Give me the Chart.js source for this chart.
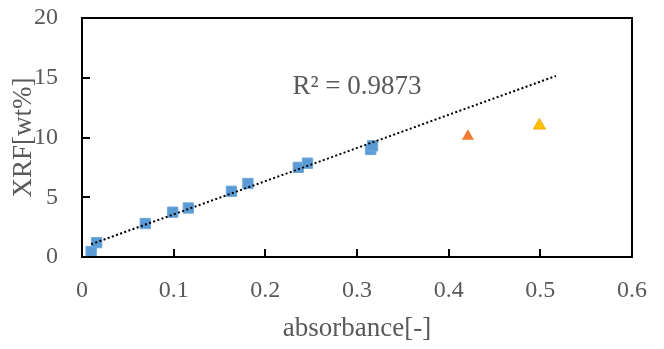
<!DOCTYPE html>
<html>
<head>
<meta charset="utf-8">
<script src="https://cdn.jsdelivr.net/npm/chart.js@4/dist/chart.umd.min.js"></script>
<style>
  html, body { margin: 0; padding: 0; background: #fff; }
  #wrap { width: 664px; height: 349px; }
</style>
</head>
<body>
<div id="wrap"><canvas id="myChart" width="664" height="349"></canvas></div>
<script>
// blue calibration points
var calX = [0.010, 0.016, 0.069, 0.099, 0.116, 0.163, 0.181, 0.236, 0.246, 0.315, 0.317];
var calY = [0.45, 1.2, 2.8, 3.75, 4.1, 5.5, 6.15, 7.5, 7.85, 9.0, 9.3];
// the two triangles
var orangeX = [0.421];
var orangeY = [10.1];
var yellowX = [0.499];
var yellowY = [11.0];
// dotted trend line (end points)
var trendX = [0.010, 0.517];
var trendY = [1.07, 15.15];
var xTicks = [0, 0.1, 0.2, 0.3, 0.4, 0.5, 0.6];
var yTicks = [0, 5, 10, 15, 20];
var r2Text = 'R² = 0.9873';

var greyText = '#595959';
var serif = "'Liberation Serif', 'DejaVu Serif', serif";

function toPoints(xs, ys) {
    return xs.map(function (x, i) { return { x: x, y: ys[i] }; });
}

// frame, inward ticks and the R² note
var framePlugin = {
    id: 'frame',
    afterDatasetsDraw: function (chart) {
        var ctx = chart.ctx;
        var a = chart.chartArea;
        var xs = chart.scales.x;
        var ys = chart.scales.y;
        ctx.save();
        ctx.strokeStyle = '#000';
        ctx.lineWidth = 2;
        ctx.beginPath();
        xTicks.forEach(function (v) {
            var px = Math.round(xs.getPixelForValue(v));
            ctx.moveTo(px, a.bottom);
            ctx.lineTo(px, a.bottom - 8);
        });
        yTicks.forEach(function (v) {
            var py = Math.round(ys.getPixelForValue(v));
            ctx.moveTo(a.left, py);
            ctx.lineTo(a.left + 8, py);
        });
        ctx.stroke();
        ctx.strokeRect(a.left, a.top, a.right - a.left, a.bottom - a.top);

        ctx.fillStyle = greyText;
        ctx.font = '27px ' + serif;
        ctx.textAlign = 'center';
        ctx.textBaseline = 'middle';
        ctx.fillText(r2Text, xs.getPixelForValue(0.30), ys.getPixelForValue(14.2));
        ctx.restore();
    }
};

var ctx = document.getElementById('myChart').getContext('2d');
var myChart = new Chart(ctx, {
    type: 'scatter',
    data: {
        datasets: [{
            label: 'trend',
            type: 'line',
            data: toPoints(trendX, trendY),
            borderColor: '#000',
            borderWidth: 2,
            borderDash: [2, 2.4],
            pointRadius: 0,
            fill: false,
            order: 0
        }, {
            label: 'calibration',
            data: toPoints(calX, calY),
            pointStyle: 'rect',
            pointRadius: 7.3,
            backgroundColor: '#5B9BD5',
            borderColor: '#6FA8DC',
            borderWidth: 1,
            order: 1
        }, {
            label: 'orange',
            data: toPoints(orangeX, orangeY),
            pointStyle: 'triangle',
            pointRadius: 7,
            backgroundColor: '#ED7D31',
            borderColor: '#ED7D31',
            borderWidth: 0,
            order: 1
        }, {
            label: 'yellow',
            data: toPoints(yellowX, yellowY),
            pointStyle: 'triangle',
            pointRadius: 7,
            backgroundColor: '#FFC000',
            borderColor: '#F5A800',
            borderWidth: 1,
            order: 1
        }]
    },
    options: {
        responsive: false,
        animation: false,
        layout: { padding: { top: 18, right: 32, left: 0, bottom: 0 } },
        plugins: {
            legend: { display: false },
            tooltip: { enabled: false }
        },
        scales: {
            x: {
                type: 'linear',
                min: 0,
                max: 0.6,
                afterBuildTicks: function (scale) {
                    scale.ticks = xTicks.map(function (v) { return { value: v }; });
                },
                afterFit: function (scale) {
                    scale.height = 92;
                    scale.paddingLeft = 0;
                    scale.paddingRight = 0;
                },
                grid: { display: false, drawTicks: false },
                border: { display: false },
                ticks: {
                    color: greyText,
                    font: { family: serif, size: 24 },
                    padding: 19,
                    maxRotation: 0,
                    callback: function (v) { return String(v); }
                },
                title: {
                    display: true,
                    text: 'absorbance[-]',
                    color: greyText,
                    font: { family: serif, size: 27 },
                    padding: { top: 0, bottom: 4 }
                }
            },
            y: {
                type: 'linear',
                min: 0,
                max: 20,
                afterBuildTicks: function (scale) {
                    scale.ticks = yTicks.map(function (v) { return { value: v }; });
                },
                afterFit: function (scale) {
                    scale.width = 82;
                    scale.paddingTop = 0;
                    scale.paddingBottom = 0;
                },
                grid: { display: false, drawTicks: false },
                border: { display: false },
                ticks: {
                    color: greyText,
                    font: { family: serif, size: 24 },
                    padding: 24
                },
                title: {
                    display: true,
                    text: 'XRF[wt%]',
                    color: greyText,
                    font: { family: serif, size: 27 },
                    padding: { top: 8, bottom: 0 }
                }
            }
        }
    },
    plugins: [framePlugin]
});
</script>
</body>
</html>
